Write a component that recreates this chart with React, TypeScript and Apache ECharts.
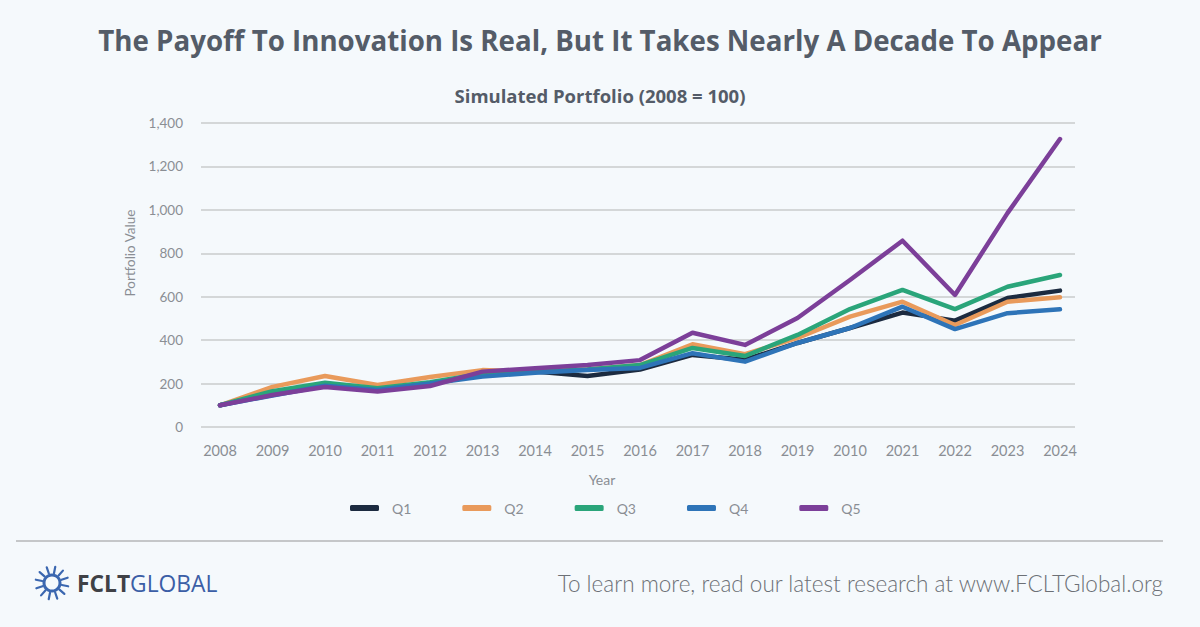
import React, { useEffect, useRef } from "react";
import * as echarts from "echarts";

const years = ["2008", "2009", "2010", "2011", "2012", "2013", "2014", "2015", "2016", "2017", "2018", "2019", "2010", "2021", "2022", "2023", "2024"];
const q1 = [100, 155, 195, 175, 200, 240, 255, 235, 265, 332, 310, 387, 456, 527, 490, 594, 628];
const q2 = [100, 185, 235, 193, 230, 262, 255, 265, 285, 381, 335, 410, 508, 577, 470, 577, 597];
const q3 = [100, 165, 204, 178, 206, 245, 255, 265, 285, 364, 327, 424, 543, 631, 543, 646, 700];
const q4 = [100, 145, 190, 170, 200, 232, 250, 262, 272, 340, 301, 387, 456, 554, 451, 524, 542];
const q5 = [100, 147, 184, 163, 189, 255, 271, 285, 308, 434, 378, 502, 677, 858, 608, 985, 1326];
const seriesNames = ["Q1", "Q2", "Q3", "Q4", "Q5"];
const seriesValues = [q1, q2, q3, q4, q5];
const colors = ["#1c2b40", "#e99a5b", "#2aa57a", "#2e74b8", "#7c3f99"];

const titleText = "The Payoff To Innovation Is Real, But It Takes Nearly A Decade To Appear";
const subtitleText = "Simulated Portfolio (2008 = 100)";
const footerText = "To learn more, read our latest research at www.FCLTGlobal.org";

export default function App() {
  const ref = useRef<HTMLDivElement>(null);
  useEffect(() => {
    if (!ref.current) return;
    const chart = echarts.init(ref.current, null, { renderer: "svg" });
    const cx = 52, cy = 583;
    const spikes: any[] = [];
    for (let k = 0; k < 12; k++) {
      const a = (k / 12) * Math.PI * 2 + 0.2;
      spikes.push({
        type: "line",
        shape: { x1: cx + Math.cos(a) * 10, y1: cy + Math.sin(a) * 10, x2: cx + Math.cos(a) * 16.5, y2: cy + Math.sin(a) * 16.5 },
        style: { stroke: "#3b67b0", lineWidth: 2.2, lineCap: "round" },
      });
    }
    const option: any = {
      animation: false,
      backgroundColor: "#f5f9fc",
      textStyle: { fontFamily: "Lato, 'Noto Sans', sans-serif" },
      grid: { left: 201, right: 125, top: 123, bottom: 200, containLabel: false },
      xAxis: {
        type: "value",
        min: -0.362,
        max: 16.286,
        axisLine: { show: false },
        axisTick: { show: false },
        splitLine: { show: false },
        axisLabel: {
          customValues: years.map((_, i) => i),
          formatter: (v: number) => years[Math.round(v)] ?? "",
          color: "#8a8e94",
          fontSize: 14.5,
          margin: 16,
          fontFamily: "Lato, sans-serif",
        },
      },
      yAxis: {
        type: "value",
        min: 0,
        max: 1400,
        interval: 200,
        axisLine: { show: false },
        axisTick: { show: false },
        axisLabel: {
          color: "#8a8e94",
          fontSize: 13.5,
          margin: 18,
          fontFamily: "Lato, sans-serif",
          formatter: (v: number) => v.toLocaleString("en-US"),
        },
        splitLine: { lineStyle: { color: "#c9cbcd", width: 1.5 } },
      },
      legend: {
        left: 345,
        top: 496,
        itemWidth: 29,
        itemHeight: 6,
        itemGap: 51,
        icon: "roundRect",
        textStyle: { color: "#8a8e94", fontSize: 14, padding: [0, 0, 0, 8], fontFamily: "Lato, sans-serif" },
        data: seriesNames,
      },
      series: seriesNames.map((name, si) => ({
        name,
        type: "line",
        data: seriesValues[si].map((v, i) => [i, v]),
        symbol: "none",
        lineStyle: { width: 4.5, color: colors[si], cap: "round", join: "round" },
        itemStyle: { color: colors[si] },
        z: 2 + si,
      })),
      graphic: [
        {
          type: "text",
          x: 600, y: 40,
          style: { text: titleText, align: "center", verticalAlign: "middle", fontSize: 27.7, fontWeight: "bold", fill: "#545c68", fontFamily: "'Open Sans', sans-serif" },
        },
        {
          type: "text",
          x: 600, y: 95,
          style: { text: subtitleText, align: "center", verticalAlign: "middle", fontSize: 18.5, fontWeight: "bold", fill: "#545c68", fontFamily: "'Open Sans', sans-serif" },
        },
        {
          type: "text",
          x: 130, y: 253, rotation: Math.PI / 2,
          style: { text: "Portfolio Value", align: "center", verticalAlign: "middle", fontSize: 13.5, fill: "#8a8e94", fontFamily: "Lato, sans-serif" },
        },
        {
          type: "text",
          x: 602, y: 479,
          style: { text: "Year", align: "center", verticalAlign: "middle", fontSize: 14, fill: "#8a8e94", fontFamily: "Lato, sans-serif" },
        },
        {
          type: "line",
          shape: { x1: 16, y1: 541, x2: 1163, y2: 541 },
          style: { stroke: "#b4b6b8", lineWidth: 1.5 },
        },
        {
          type: "circle",
          shape: { cx, cy, r: 8 },
          style: { fill: "none", stroke: "#3b67b0", lineWidth: 3 },
        },
        ...spikes,
        {
          type: "text",
          x: 77, y: 583,
          style: {
            text: "{a|FCLT}{b|GLOBAL}",
            verticalAlign: "middle",
            rich: {
              a: { fontSize: 22.8, fontWeight: "bold", fill: "#3f4146", fontFamily: "'Open Sans', sans-serif" },
              b: { fontSize: 22.8, fill: "#3b5ea6", fontFamily: "'Open Sans', sans-serif" },
            },
          },
        },
        {
          type: "text",
          x: 1163, y: 583,
          style: { text: footerText, align: "right", verticalAlign: "middle", fontSize: 22.5, fontWeight: 300, fill: "#6c7076", fontFamily: "Lato, sans-serif" },
        },
      ],
    };
    chart.setOption(option);
    return () => chart.dispose();
  }, []);
  return <div ref={ref} style={{ position: "fixed", left: 0, top: 0, width: 1200, height: 627 }} />;
}
